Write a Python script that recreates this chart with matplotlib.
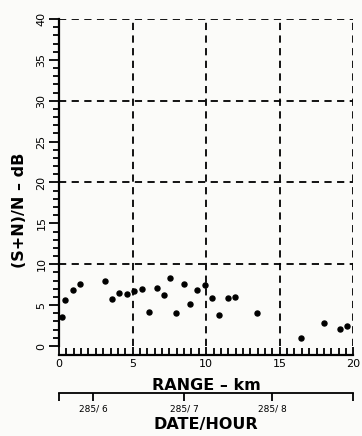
import matplotlib
matplotlib.use("Agg")
import matplotlib.pyplot as plt
from matplotlib.ticker import MultipleLocator

# Data
range_km = [0.23, 0.43, 0.93, 1.43, 3.13, 3.6, 4.1, 4.6, 5.12, 5.63, 6.1, 6.65,
            7.15, 7.55, 7.96, 8.52, 8.9, 9.37, 9.9, 10.4, 10.84, 11.5, 11.93,
            13.45, 16.44, 18.0, 19.07, 19.54]
snr_db = [3.55, 5.6, 6.9, 7.55, 8.0, 5.8, 6.45, 6.3, 6.7, 7.0, 4.2, 7.15,
          6.2, 8.35, 4.05, 7.6, 5.1, 6.9, 7.45, 5.9, 3.75, 5.9, 6.0,
          4.0, 0.95, 2.8, 2.1, 2.4]

date_ticks = [0, 2.33, 8.5, 14.5, 20]
date_labels = ["", "285/ 6", "285/ 7", "285/ 8", ""]

bg = "#fbfbf9"
fig = plt.figure(figsize=(3.62, 4.36), dpi=100, facecolor=bg)
ax = fig.add_axes([59/362, 90/436, 294.3/362, 327/436], facecolor=bg)

ax.plot(range_km, snr_db, 'o', color='black', ms=3.6, zorder=3)

ax.set_xlim(0, 20)
ax.set_ylim(0, 40)

for s in ['top', 'right']:
    ax.spines[s].set_visible(False)
ax.spines['left'].set_linewidth(1.6)
ax.spines['bottom'].set_linewidth(1.6)
ax.spines['bottom'].set_position(('outward', 6.5))

# grid lines
for yv in [10, 20, 30, 40]:
    ax.axhline(yv, color='black', lw=1.3, ls=(0, (4, 3)), zorder=1)
for xv in [5, 10, 15, 20]:
    ax.axvline(xv, color='black', lw=1.3, ls=(0, (4, 3)), zorder=1)

ax.xaxis.set_major_locator(MultipleLocator(5))
ax.xaxis.set_minor_locator(MultipleLocator(0.5))
ax.yaxis.set_major_locator(MultipleLocator(5))
ax.yaxis.set_minor_locator(MultipleLocator(1))
ax.tick_params(axis='x', which='both', direction='in', width=1.3, pad=3, labelsize=8)
ax.tick_params(axis='x', which='major', length=6)
ax.tick_params(axis='x', which='minor', length=5)
ax.tick_params(axis='y', which='both', direction='out', width=1.3, labelsize=8, pad=2)
ax.tick_params(axis='y', which='major', length=7)
ax.tick_params(axis='y', which='minor', length=4)
for lbl in ax.get_yticklabels():
    lbl.set_rotation(90)
    lbl.set_va('center')

ax.set_xlabel("RANGE – km", fontsize=11.5, fontweight='bold', labelpad=6)
fig.text(20/362, 1 - 210/436, "(S+N)/N – dB", rotation=90, fontsize=11.5,
         fontweight='bold', ha='center', va='center')

# date/hour axis
sec = ax.secondary_xaxis(-0.145)
sec.spines['bottom'].set_linewidth(1.3)
sec.set_xticks(date_ticks)
sec.set_xticklabels(date_labels)
sec.tick_params(axis='x', direction='out', length=6, width=1.3, labelsize=6.5, pad=2)
sec.set_xlabel("DATE/HOUR", fontsize=11.5, fontweight='bold', labelpad=2.5)

fig.savefig("out.png", dpi=100, facecolor=bg)
